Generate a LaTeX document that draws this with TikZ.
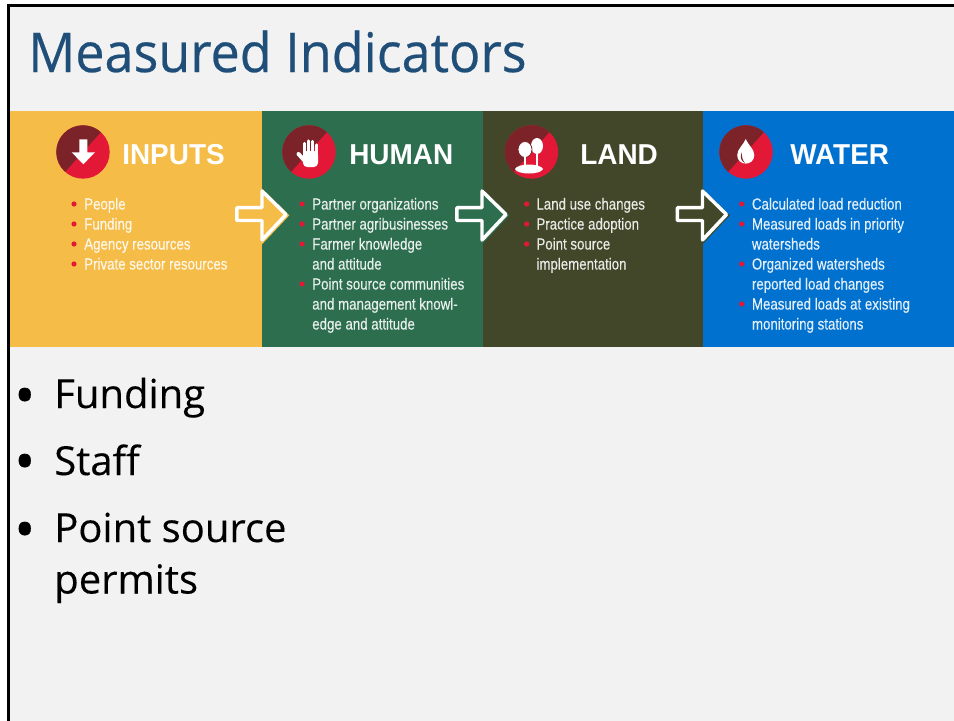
\documentclass[tikz,border=0pt]{standalone}
\usepackage{fontspec}
\setmainfont[FakeBold=.25]{Open Sans}
\newfontfamily\titlefont[FakeStretch=.953,FakeBold=.4]{Open Sans}
\newfontfamily\panelfont[FakeStretch=0.83,FakeBold=.2]{Liberation Sans}
\newfontfamily\headfont[FakeStretch=.97]{Liberation Sans}
\definecolor{framebg}{HTML}{F2F2F2}
\definecolor{titleblue}{HTML}{1F4E79}
\definecolor{inputsbg}{HTML}{F5BC47}
\definecolor{humanbg}{HTML}{2D6E4F}
\definecolor{landbg}{HTML}{414728}
\definecolor{waterbg}{HTML}{0071CE}
\definecolor{badgered}{HTML}{E31837}
\definecolor{badgedark}{HTML}{7B2328}
\newcommand{\badge}[2]{
  \fill [badgered] (#1, #2) circle (26.7);
  \fill [badgedark] (#1, #2) ++(-48:26.7) arc [start angle=-48, end angle=-228, radius=26.7] -- cycle;
}
\newcommand{\flowarrow}[2]{
  \draw [#2, line width=2.6pt, shift={(#1+.9, .9)}] (236.8, 207.7) -- (262, 207.7) -- (262, 191) -- (286, 214.5) -- (262, 240) -- (262, 220.5) -- (236.8, 220.5) -- cycle;
  \draw [fill=#2, draw=white, line width=2.6pt, line join=round, shift={(#1, 0)}] (236.8, 207.7) -- (262, 207.7) -- (262, 191) -- (286, 214.5) -- (262, 240) -- (262, 220.5) -- (236.8, 220.5) -- cycle;
}
\tikzset{
  head/.style={anchor=base west, inner sep=0, text=white, font=\headfont\fontsize{21.6}{26}\bfseries\selectfont},
  item/.style={anchor=base west, inner sep=0, text=white, text opacity=.88, font=\panelfont\fontsize{12}{14}\selectfont},
  point/.style={anchor=base west, inner sep=0, font=\fontsize{30}{36}\selectfont},
  listmark/.style={anchor=base west, inner sep=0, font=\fontsize{42}{36}\selectfont},
  dot/.style={badgered},
  icon/.style={white}
}
\begin{document}
\begin{tikzpicture}[x=.75pt, y=-.75pt]
  \useasboundingbox (0, 0) rectangle (954, 721);
  \fill [framebg] (8.5, 5.5) rectangle (954, 721);
  \draw [black, line width=2.25pt] (8.5, 721) -- (8.5, 5.5) -- (954, 5.5);
  \node [anchor=base west, inner sep=0, text=titleblue, font=\titlefont\fontsize{41}{48}\selectfont] (title) at (28, 72) {Measured Indicators};
  % panels
  \fill [inputsbg] (10, 111) rectangle (262, 347);
  \fill [humanbg] (262, 111) rectangle (483, 347);
  \fill [landbg] (483, 111) rectangle (703, 347);
  \fill [waterbg] (703, 111) rectangle (954, 347);
  % badges
  \badge{83}{152}
  \badge{309}{152}
  \badge{531.5}{152}
  \badge{746}{152}
  \fill [icon] (79.3, 139.3) -- (87.3, 139.3) -- (87.3, 152.3) -- (95, 152.3) -- (83.3, 164.3) -- (71.7, 152.3) -- (79.3, 152.3) -- cycle;
  \draw [icon, line width=2.4pt, line cap=round] (304.5, 155) -- (304.5, 143.5);
  \draw [icon, line width=2.4pt, line cap=round] (308.5, 155) -- (308.5, 141);
  \draw [icon, line width=2.4pt, line cap=round] (312.5, 155) -- (312.5, 141.5);
  \draw [icon, line width=2.4pt, line cap=round] (316.5, 155) -- (316.5, 145);
  \draw [icon, line width=3pt, line cap=round] (298.5, 154) -- (304, 160);
  \fill [icon, rounded corners=3] (303, 151) rectangle (318, 167);
  \fill [icon] (537, 146) ellipse (6 and 8);
  \draw [icon, line width=1pt] (537, 150) -- (537, 166);
  \draw [badgedark, fill=white, line width=.6pt] (525, 149.5) ellipse (7 and 8);
  \draw [icon, line width=1pt] (525, 155) -- (525, 166);
  \fill [icon] (515, 169) .. controls (518, 163) and (540, 163) .. (543, 169) .. controls (541, 175) and (517, 175) .. (515, 169) -- cycle;
  \fill [icon] (745.7, 139) .. controls (748, 145) and (754.3, 149) .. (754.3, 155) .. controls (754.3, 166.5) and (737.2, 166.5) .. (737.2, 155) .. controls (737.2, 149) and (743.5, 145) .. (745.7, 139) -- cycle;
  \fill [badgedark] (742, 152) .. controls (739.5, 157) and (741, 161) .. (745, 163) .. controls (742.5, 160) and (741.5, 157) .. (742, 152) -- cycle;
  % headings
  \node [head] (inputs) at (122, 164) {INPUTS};
  \node [head] (human) at (349, 164) {HUMAN};
  \node [head] (land) at (580, 164) {LAND};
  \node [head] (water) at (790, 164) {WATER};
  % arrows
  \flowarrow{0}{inputsbg}
  \flowarrow{220}{humanbg}
  \flowarrow{440.5}{landbg}
  % inputs column
  \fill [dot] (74, 204) circle (2.6);
  \fill [dot] (74, 224) circle (2.6);
  \fill [dot] (74, 244) circle (2.6);
  \fill [dot] (74, 264) circle (2.6);
  \node [item] (i1) at (84, 209.5) {People};
  \node [item] (i2) at (84, 229.5) {Funding};
  \node [item] (i3) at (84, 249.5) {Agency resources};
  \node [item] (i4) at (84, 269.5) {Private sector resources};
  % human column
  \fill [dot] (302, 204) circle (2.6);
  \fill [dot] (302, 224) circle (2.6);
  \fill [dot] (302, 244) circle (2.6);
  \fill [dot] (302, 284) circle (2.6);
  \node [item] (h1) at (312, 209.5) {Partner organizations};
  \node [item] (h2) at (312, 229.5) {Partner agribusinesses};
  \node [item] (h3) at (312, 249.5) {Farmer knowledge};
  \node [item] (h4) at (312, 269.5) {and attitude};
  \node [item] (h5) at (312, 289.5) {Point source communities};
  \node [item] (h6) at (312, 309.5) {and management knowl-};
  \node [item] (h7) at (312, 329.5) {edge and attitude};
  % land column
  \fill [dot] (526.7, 204) circle (2.6);
  \fill [dot] (526.7, 224) circle (2.6);
  \fill [dot] (526.7, 244) circle (2.6);
  \node [item] (l1) at (536.2, 209.5) {Land use changes};
  \node [item] (l2) at (536.2, 229.5) {Practice adoption};
  \node [item] (l3) at (536.2, 249.5) {Point source};
  \node [item] (l4) at (536.2, 269.5) {implementation};
  % water column
  \fill [dot] (741.7, 204) circle (2.6);
  \fill [dot] (741.7, 224) circle (2.6);
  \fill [dot] (741.7, 264) circle (2.6);
  \fill [dot] (741.7, 304) circle (2.6);
  \node [item] (w1) at (751.7, 209.5) {Calculated load reduction};
  \node [item] (w2) at (751.7, 229.5) {Measured loads in priority};
  \node [item] (w3) at (751.7, 249.5) {watersheds};
  \node [item] (w4) at (751.7, 269.5) {Organized watersheds};
  \node [item] (w5) at (751.7, 289.5) {reported load changes};
  \node [item] (w6) at (751.7, 309.5) {Measured loads at existing};
  \node [item] (w7) at (751.7, 329.5) {monitoring stations};
  % body list
  \node [listmark] (b1) at (14, 415) {•};
  \node [point] (funding) at (54, 408) {Funding};
  \node [listmark] (b2) at (14, 481) {•};
  \node [point] (staff) at (54, 475) {Staff};
  \node [listmark] (b3) at (14, 549) {•};
  \node [point] (source) at (54, 542) {Point source};
  \node [point] (permits) at (54, 593.5) {permits};
\end{tikzpicture}
\end{document}
